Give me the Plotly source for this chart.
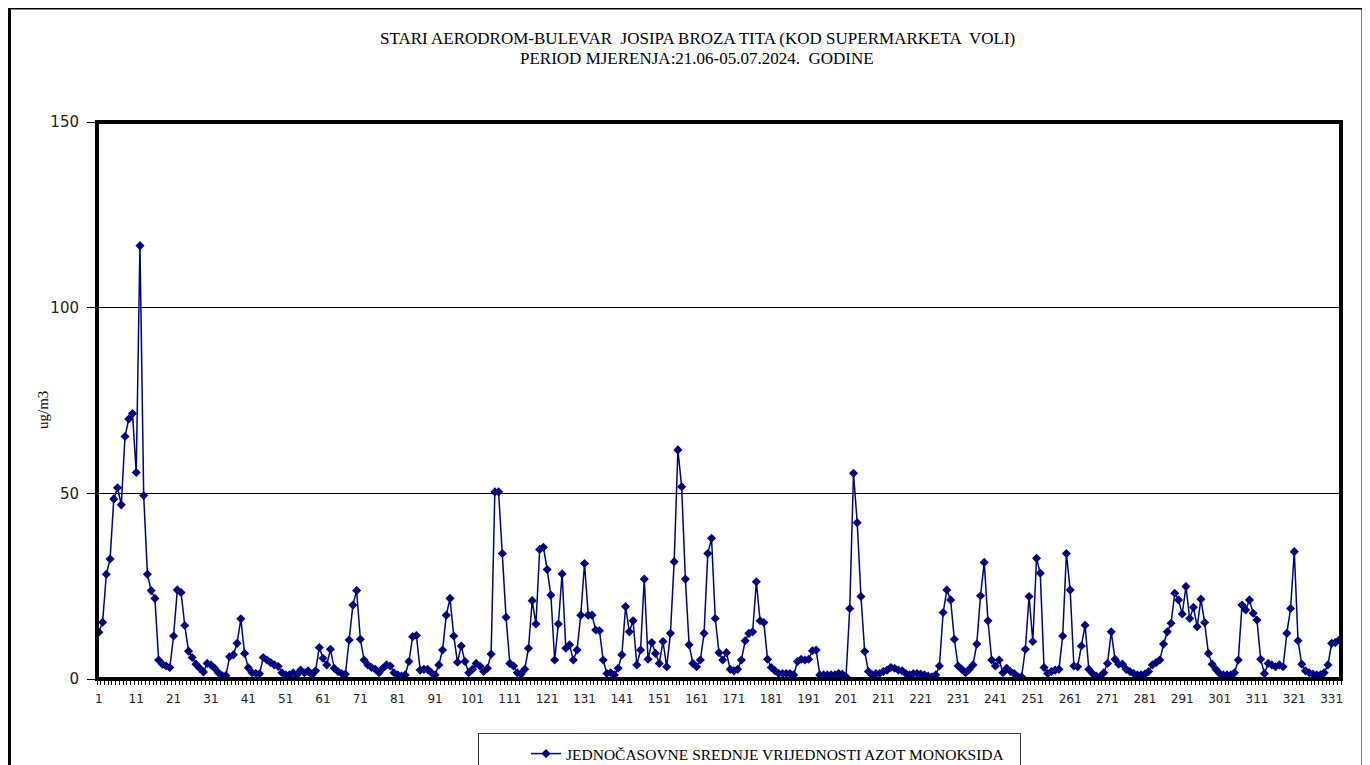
import plotly.graph_objects as go

# ---- data (hourly NO mean values, ug/m3) ----
no_1_44 = [12.6, 15.3, 28.2, 32.3, 48.5, 51.5, 46.9, 65.3, 70.0, 71.5, 55.6, 116.7,
           49.4, 28.2, 23.8, 21.7, 5.1, 4.0, 3.5, 3.1, 11.6,
           24.0, 23.3, 14.4, 7.5, 5.8, 4.0, 2.9, 1.9,
           4.2, 3.8, 2.9, 1.7, 0.9, 0.9, 6.0, 6.5, 9.6, 16.2,
           6.9, 3.0, 1.7, 1.5, 1.4]
no_45_106 = [5.8, 5.1, 4.4, 3.8, 3.4, 1.7, 1.1, 1.1, 1.7, 1.1, 2.4, 1.7, 2.2, 1.1, 2.2,
             8.5, 5.6, 3.8, 8.0, 2.9, 2.0, 1.5, 1.3, 10.5, 19.9, 23.8, 10.7, 5.1,
             3.8, 3.1, 2.6, 1.7, 2.9, 3.8, 3.5, 1.7, 1.1, 0.8, 1.1, 4.7, 11.4, 11.7, 2.4,
             2.6, 2.6, 1.7, 1.1, 3.8, 7.8, 17.2, 21.7, 11.6, 4.5, 8.9, 4.7, 1.7, 2.6, 4.2,
             3.5, 2.0, 2.9, 6.7]
no_107_174 = [50.4, 50.4, 33.8, 16.6, 4.2, 3.5, 1.7, 1.3, 2.6, 8.3, 21.1, 14.8, 34.9,
              35.5, 29.5, 22.6, 5.1, 14.8, 28.3, 8.3, 9.2, 5.1, 7.8, 17.2, 31.1,
              17.2, 17.2, 13.2, 13.0, 5.1, 1.5, 1.7, 1.1, 2.9, 6.5, 19.5, 12.7, 15.7,
              3.8, 7.8, 26.9,
              5.3, 9.8, 6.9, 4.2, 10.1, 3.3, 12.3, 31.6, 61.7, 51.8, 26.9, 9.2, 4.2,
              3.3, 5.1, 12.3, 33.8, 37.9, 16.3, 7.1, 5.1, 7.1, 2.6, 2.2, 2.6, 5.1, 10.3]
no_175_248 = [12.3, 12.7, 26.2, 15.7, 15.2, 5.3, 3.1, 2.2, 1.5, 1.5, 1.5, 1.5, 1.1,
              4.7, 5.3, 5.1, 5.3, 7.6, 7.8, 1.1, 1.1, 1.1, 1.1, 1.1, 1.5, 1.3, 0.6,
              19.0, 55.4, 42.1, 22.2, 7.4, 2.0, 1.1, 1.5, 1.5, 2.0, 2.4,
              3.1, 2.9, 2.4, 2.2, 1.5, 1.1, 1.5, 1.5, 1.3, 1.1, 0.8, 0.6, 1.1,
              3.5, 17.9, 24.0, 21.3, 10.7, 3.5, 2.6, 1.7, 2.6, 3.8, 9.4, 22.4, 31.4, 15.7,
              5.1, 3.5, 5.1, 1.7, 2.9, 2.0, 1.5, 0.6, 0.6]
no_249_301 = [8.0, 22.2, 10.1, 32.5, 28.5, 3.1, 1.5, 2.0, 2.4, 2.6, 11.6, 33.8,
              24.0, 3.5, 3.3, 8.9, 14.5, 2.6, 1.5, 0.8, 0.6, 1.7, 4.2, 12.7, 5.3, 4.0, 4.0,
              2.6, 2.0, 1.5, 1.1, 1.1, 1.3, 2.0, 3.8, 4.4, 5.1, 9.4, 12.7, 15.0, 23.1,
              21.3, 17.5, 24.9, 16.3, 19.3, 14.1, 21.5, 15.2, 6.9, 4.0, 2.6, 1.5]
no_302_333 = [1.1, 1.1, 1.1, 1.7, 5.1, 19.9, 18.6, 21.3, 17.7, 15.9, 5.3, 1.5,
              4.2, 3.8, 3.3, 3.8, 3.3, 12.3, 19.0, 34.3, 10.3, 4.0, 2.2, 1.7, 1.3,
              1.1, 1.1, 1.7, 3.8, 9.6, 9.8, 10.5]

no_values = no_1_44 + no_45_106 + no_107_174 + no_175_248 + no_249_301 + no_302_333
hours = list(range(1, len(no_values) + 1))

x_tick_labels = [str(v) for v in range(1, len(no_values) + 1, 10)]
y_tick_values = [0, 50, 100, 150]

title_line1 = "STARI AERODROM-BULEVAR  JOSIPA BROZA TITA (KOD SUPERMARKETA  VOLI)"
title_line2 = "PERIOD MJERENJA:21.06-05.07.2024.  GODINE"
series_name = "JEDNOČASOVNE SREDNJE VRIJEDNOSTI AZOT MONOKSIDA"
y_title = "ug/m3"

# ---- geometry (page pixels; the page body adds an 8px offset) ----
OFF = 8
W, H = 1370 - OFF, 765 - OFF
L, R, T, B = 97 - OFF, 1341 - OFF, 122 - OFF, 679 - OFF
pw, ph = R - L, B - T


def px_x(page_x):
    return (page_x - OFF - L) / pw


def px_y(page_y):
    return (B - (page_y - OFF)) / ph


serif = "Liberation Serif, Times New Roman, serif"
sans = "DejaVu Sans, Verdana, sans-serif"

fig = go.Figure()
fig.add_trace(go.Scatter(
    x=hours, y=no_values, mode="lines+markers", name=series_name,
    line=dict(color="#000080", width=1.5),
    marker=dict(symbol="diamond", size=7, color="#000080"),
))

fig.update_layout(
    width=W, height=H,
    margin=dict(l=L, r=W - R, t=T, b=H - B),
    paper_bgcolor="white", plot_bgcolor="white",
    showlegend=True,
    legend=dict(
        orientation="h",
        xref="container", yref="container",
        x=(526 - OFF) / W, xanchor="left",
        y=1 - (737 - OFF) / H, yanchor="top",
        font=dict(family=serif, size=15.5, color="black"),
        bgcolor="rgba(0,0,0,0)", borderwidth=0,
    ),
    xaxis=dict(
        range=[0.5, len(no_values) + 0.5],
        tickmode="array",
        tickvals=[int(s) for s in x_tick_labels],
        ticktext=x_tick_labels,
        ticks="", showgrid=False, zeroline=False, showline=False,
        tickfont=dict(family=sans, size=12, color="#222"),
        ticklabelstandoff=11,
        minor=dict(ticks="outside", ticklen=5, tickwidth=1, tickcolor="black",
                   tickmode="linear", tick0=0.5, dtick=1, showgrid=False),
    ),
    yaxis=dict(
        range=[0, 150],
        tickmode="array", tickvals=y_tick_values,
        ticks="outside", ticklen=9, tickwidth=1, tickcolor="black",
        showgrid=True, gridcolor="black", gridwidth=1,
        zeroline=False, showline=False,
        tickfont=dict(family=sans, size=15, color="#222"),
        ticklabelstandoff=5,
    ),
    shapes=[
        # outer chart frame
        dict(type="rect", xref="paper", yref="paper",
             x0=px_x(9.5), x1=px_x(1363), y0=px_y(800), y1=px_y(8),
             line=dict(color="black", width=3), layer="above"),
        # plot area frame
        dict(type="rect", xref="paper", yref="paper",
             x0=0, x1=1, y0=0, y1=1,
             line=dict(color="black", width=4), layer="above"),
        # legend frame
        dict(type="rect", xref="paper", yref="paper",
             x0=px_x(478.5), x1=px_x(1020.5), y0=px_y(800), y1=px_y(733.5),
             line=dict(color="#333", width=1), layer="above"),
    ],
    annotations=[
        dict(text=title_line1, xref="paper", yref="paper",
             x=px_x(697), y=px_y(39), showarrow=False,
             xanchor="center", yanchor="middle",
             font=dict(family=serif, size=17, color="black")),
        dict(text=title_line2, xref="paper", yref="paper",
             x=px_x(697), y=px_y(58), showarrow=False,
             xanchor="center", yanchor="middle",
             font=dict(family=serif, size=17, color="black")),
        dict(text=y_title, xref="paper", yref="paper",
             x=px_x(43), y=px_y(410), textangle=-90, showarrow=False,
             xanchor="center", yanchor="middle",
             font=dict(family=serif, size=15, color="black")),
    ],
)

fig.write_html("out.html")
